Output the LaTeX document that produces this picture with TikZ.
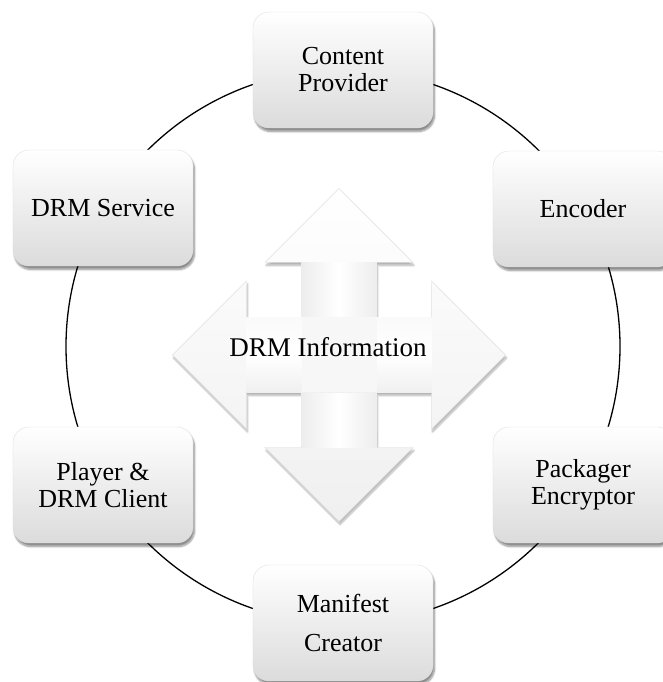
\documentclass[tikz,border=0pt]{standalone}
\usepackage{fontspec}
\setmainfont{Liberation Serif}
\usetikzlibrary{shadows.blur}
\begin{document}
\begin{tikzpicture}[x=1pt,y=1pt,
  stage/.style={rounded corners=16pt, minimum width=180pt, minimum height=116pt,
    top color=white, bottom color=gray!28, draw=gray!25, line width=0.4pt,
    align=center, font=\fontsize{26}{27}\selectfont, inner sep=0pt,
    blur shadow={shadow xshift=1.5pt, shadow yshift=-3.5pt, shadow blur steps=8, shadow opacity=45}},
  ring/.style={line width=1.3pt, draw=black},
  crossbody/.style={top color=white, bottom color=gray!12, draw=gray!25, line width=0.4pt,
    blur shadow={shadow xshift=1pt, shadow yshift=-3pt, shadow blur steps=8, shadow opacity=30}},
  vshaft/.style={shading=axis, left color=gray!14, right color=gray!14, middle color=white, draw=none},
  hshaft/.style={shading=axis, top color=gray!4, bottom color=gray!12, middle color=white, draw=none},
  infotext/.style={font=\fontsize{27}{28}\selectfont, inner sep=0pt}]
\useasboundingbox (0,0) rectangle (663,682);
\coordinate (ctr) at (343,335.5);
\draw[ring] (ctr) circle (277);

% central four-way arrow
\begin{scope}[shift={(339,327)}]
\path[crossbody] (0,166.5) -- (74,92.5) -- (37.5,92.5) -- (37.5,37.5) -- (92.5,37.5) -- (92.5,74)
  -- (166.5,0) -- (92.5,-74) -- (92.5,-37.5) -- (37.5,-37.5) -- (37.5,-92.5) -- (74,-92.5)
  -- (0,-166.5) -- (-74,-92.5) -- (-37.5,-92.5) -- (-37.5,-37.5) -- (-92.5,-37.5) -- (-92.5,-74)
  -- (-166.5,0) -- (-92.5,74) -- (-92.5,37.5) -- (-37.5,37.5) -- (-37.5,92.5) -- (-74,92.5) -- cycle;
\path[vshaft] (-37.5,-92.5) rectangle (37.5,92.5);
\path[hshaft] (-92.5,-37.5) rectangle (92.5,37.5);
\path[fill=gray!6] (-37.5,-37.5) rectangle (37.5,37.5);
\end{scope}
\node[infotext] (info) at (328,335) {DRM Information};

% stages
\node[stage] (cp)  at (343,612) {Content\\Provider};
\node[stage] (enc) at (583,473) {Encoder};
\node[stage] (pe)  at (583,197) {Packager\\Encryptor};
\node[stage] (mc)  at (343,59)  {Manifest\\[12pt]Creator};
\node[stage] (pdc) at (103,197) {Player \&\\DRM Client};
\node[stage] (ds)  at (103,474) {DRM Service};
\end{tikzpicture}
\end{document}
